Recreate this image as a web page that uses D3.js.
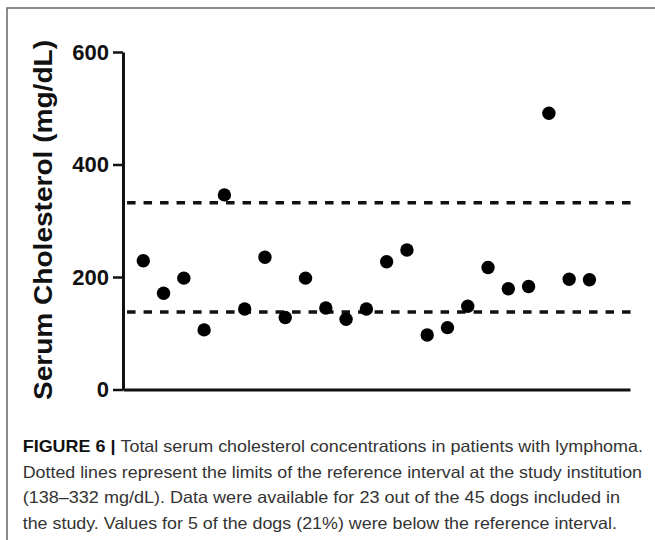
<!DOCTYPE html>
<html>
<head>
<meta charset="utf-8">
<script src="https://d3js.org/d3.v7.min.js"></script>
<style>
  body { margin: 0; background: #fff; }
  svg { display: block; }
  .axis text { font-family: "Liberation Sans", Arial, sans-serif; font-weight: bold; font-size: 22px; fill: #111; }
  .axis path, .axis line { stroke: #111; }
</style>
</head>
<body>
<svg width="655" height="540"></svg>
<script>
// cholesterol per dog (mg/dL)
var dogs = d3.range(1, 24);
var cholesterol = [229, 171, 198, 106, 346, 143, 235, 128, 198, 145, 125, 143,
                   227, 248, 97, 110, 148, 217, 179, 183, 491, 196, 195];
var refLimits = [138, 332];
var yTicks = [0, 200, 400, 600];
var captionLines = [
  "Total serum cholesterol concentrations in patients with lymphoma.",
  "Dotted lines represent the limits of the reference interval at the study institution",
  "(138\u2013332 mg/dL). Data were available for 23 out of the 45 dogs included in",
  "the study. Values for 5 of the dogs (21%) were below the reference interval."
];

var svg = d3.select("svg");

var x = d3.scaleLinear().domain([0, 25]).range([123, 630]);
var y = d3.scaleLinear().domain([0, 600]).range([389.5, 52]);

// frame (top + left edge)
svg.append("path")
    .attr("d", "M7,540V8H655")
    .attr("fill", "none")
    .attr("stroke", "#666")
    .attr("stroke-width", 1.5);

// reference interval
svg.append("g")
  .selectAll("line")
  .data(refLimits)
  .enter().append("line")
    .attr("x1", x(0.2))
    .attr("x2", x(25.1))
    .attr("y1", function(d) { return y(d); })
    .attr("y2", function(d) { return y(d); })
    .attr("stroke", "#111")
    .attr("stroke-width", 3.5)
    .attr("stroke-dasharray", "8.5,8");

// axes
var yAxis = svg.append("g")
    .attr("class", "axis")
    .attr("transform", "translate(" + x(0) + ",0)")
    .call(d3.axisLeft(y).tickValues(yTicks).tickSize(10).tickSizeOuter(0).tickPadding(4));
yAxis.select(".domain").attr("stroke-width", 3);
yAxis.selectAll(".tick line").attr("stroke-width", 2.5);

var xAxis = svg.append("g")
    .attr("class", "axis")
    .attr("transform", "translate(0," + y(0) + ")")
    .call(d3.axisBottom(x).tickValues([]).tickSizeOuter(0));
xAxis.select(".domain").attr("stroke-width", 3);

svg.append("text")
    .attr("transform", "translate(52,220) rotate(-90)")
    .attr("text-anchor", "middle")
    .attr("font-family", "Liberation Sans, Arial, sans-serif")
    .attr("font-weight", "bold")
    .attr("font-size", 26)
    .attr("fill", "#111")
    .attr("textLength", 360)
    .attr("lengthAdjust", "spacingAndGlyphs")
    .text("Serum Cholesterol (mg/dL)");

// points
svg.append("g")
  .selectAll("circle")
  .data(dogs)
  .enter().append("circle")
    .attr("cx", function(d) { return x(d); })
    .attr("cy", function(d, i) { return y(cholesterol[i]); })
    .attr("r", 6.7)
    .attr("fill", "#000");

// caption
var lineEnds = [643, 642, 620, 617];
var cap = svg.append("g")
    .attr("font-family", "Liberation Sans, Arial, sans-serif")
    .attr("font-size", 16.5)
    .attr("fill", "#333");

captionLines.forEach(function(t, i) {
  var txt = cap.append("text")
      .attr("x", 22.7)
      .attr("y", 451.7 + i * 25.8)
      .attr("textLength", lineEnds[i] - 22.7)
      .attr("lengthAdjust", "spacingAndGlyphs");
  if (i === 0) {
    txt.append("tspan").attr("font-weight", "bold").attr("fill", "#111").text("FIGURE 6 | ");
  }
  txt.append("tspan").text(t);
});
</script>
</body>
</html>
